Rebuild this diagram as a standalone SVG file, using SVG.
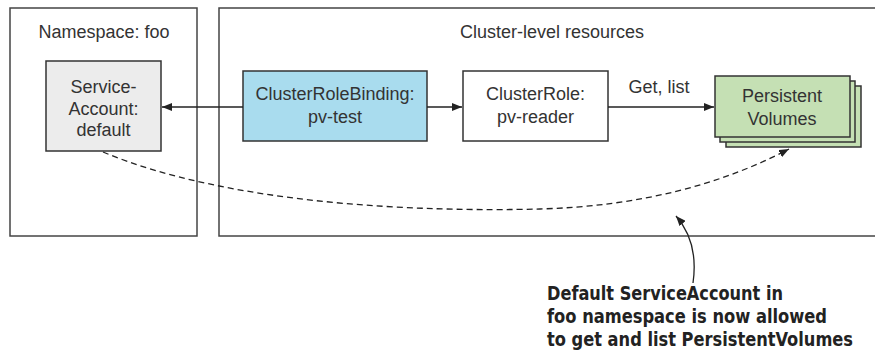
<svg xmlns="http://www.w3.org/2000/svg" width="875" height="359" viewBox="0 0 875 359">
<defs>
<marker id="ah" viewBox="0 0 10 8" refX="10" refY="4" markerWidth="10" markerHeight="8" markerUnits="userSpaceOnUse" orient="auto">
<path d="M0,0 L10,4 L0,8 z" fill="#222"/>
</marker>
</defs>
<style>
.t{font-family:"Liberation Sans",Arial,sans-serif;font-size:18px;fill:#333;text-anchor:middle}
.b{font-family:"DejaVu Sans Condensed","Liberation Sans Narrow","Liberation Sans",sans-serif;font-weight:bold;font-size:19px;fill:#222}
.frame{fill:#fff;stroke:#444;stroke-width:1.5}
.box{stroke:#333;stroke-width:1.5}
.ln{fill:none;stroke:#222;stroke-width:1.3}
</style>
<rect width="875" height="359" fill="#fff"/>
<g id="ns">
<rect class="frame" x="10" y="8" width="187" height="228"/>
<text class="t" x="104" y="38">Namespace: foo</text>
</g>
<g id="cluster">
<rect class="frame" x="219" y="8" width="665" height="228"/>
<text class="t" x="552" y="38">Cluster-level resources</text>
</g>
<g id="sa">
<rect class="box" x="46" y="61" width="115" height="90" fill="#ececec"/>
<text class="t" x="103.5" y="93">Service-</text>
<text class="t" x="103.5" y="115">Account:</text>
<text class="t" x="103.5" y="136">default</text>
</g>
<g id="crb">
<rect class="box" x="243" y="71" width="184" height="70" fill="#a9dcee"/>
<text class="t" x="335" y="100">ClusterRoleBinding:</text>
<text class="t" x="335" y="123">pv-test</text>
</g>
<g id="cr">
<rect class="box" x="463" y="71" width="145" height="70" fill="#fff"/>
<text class="t" x="535.5" y="100">ClusterRole:</text>
<text class="t" x="535.5" y="123">pv-reader</text>
</g>
<g id="pv">
<rect class="box" x="726" y="86" width="135" height="61" fill="#c5e0b4"/>
<rect class="box" x="720" y="81" width="135" height="61" fill="#c5e0b4"/>
<rect class="box" x="715" y="76" width="135" height="61" fill="#c5e0b4"/>
<text class="t" x="782" y="102">Persistent</text>
<text class="t" x="782" y="125">Volumes</text>
</g>
<g id="connectors">
<line class="ln" x1="243" y1="107" x2="162" y2="107" marker-end="url(#ah)"/>
<line class="ln" x1="427" y1="107" x2="462" y2="107" marker-end="url(#ah)"/>
<line class="ln" x1="608" y1="107" x2="714" y2="107" marker-end="url(#ah)"/>
<text class="t" x="659" y="93">Get, list</text>
<path class="ln" d="M103,152 C230,205 420,212 540,209 C640,206 720,185 789,149" stroke-dasharray="6,4" marker-end="url(#ah)"/>
<path class="ln" d="M693,283 C697,255 690,232 676,216" marker-end="url(#ah)"/>
</g>
<g id="note">
<text class="b" x="547" y="300" textLength="236" lengthAdjust="spacingAndGlyphs">Default ServiceAccount in</text>
<text class="b" x="547" y="323" textLength="280" lengthAdjust="spacingAndGlyphs">foo namespace is now allowed</text>
<text class="b" x="547" y="346" textLength="306" lengthAdjust="spacingAndGlyphs">to get and list PersistentVolumes</text>
</g>
</svg>
